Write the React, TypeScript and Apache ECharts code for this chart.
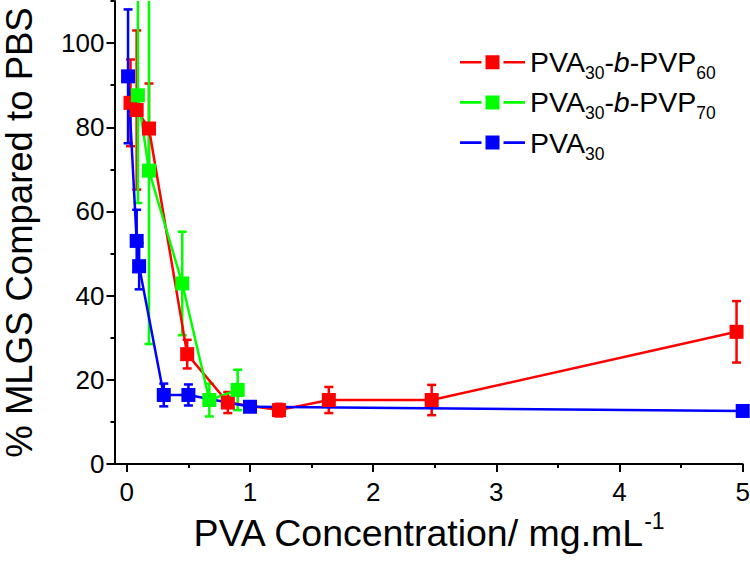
import React, { useEffect, useRef } from 'react';
import * as echarts from 'echarts';

const FONT = '"Liberation Sans", Arial, Helvetica, sans-serif';

// Series names and colours
const seriesNames = ['PVA30-b-PVP60', 'PVA30-b-PVP70', 'PVA30'];
const legendLabels = [
  '{n|PVA}{s|30}{n|-}{i|b}{n|-PVP}{s|60}',
  '{n|PVA}{s|30}{n|-}{i|b}{n|-PVP}{s|70}',
  '{n|PVA}{s|30}',
];
const seriesColors = ['#ff0000', '#00ff00', '#0000ff'];

// PVA30-b-PVP60 (red)
const redX = [0.03, 0.08, 0.18, 0.49, 0.82, 1.235, 1.64, 2.475, 4.95];
const redY = [85.8, 84.1, 79.7, 26.1, 14.6, 12.8, 15.2, 15.2, 31.4];
const redErr = [10.3, 18.9, 10.7, 3.4, 2.5, 1.5, 3.1, 3.6, 7.3];

// PVA30-b-PVP70 (green)
const greenX = [0.09, 0.18, 0.45, 0.67, 0.9];
const greenY = [87.6, 69.7, 42.9, 15.2, 17.6];
const greenErr = [25.6, 41.2, 12.3, 3.9, 4.8];

// PVA30 (blue)
const blueX = [0.01, 0.08, 0.1, 0.3, 0.5, 1.0, 5.0];
const blueY = [92.1, 53.0, 47.0, 16.4, 16.4, 13.6, 12.6];
const blueErr = [15.9, 7.4, 5.5, 2.7, 2.5, 1.0, 0.8];

// Axis ticks
const xMajorTicks = [0, 1, 2, 3, 4, 5];
const xMinorTicks = [0.5, 1.5, 2.5, 3.5, 4.5];
const yMajorTicks = [0, 20, 40, 60, 80, 100];
const yMinorTicks = [10, 30, 50, 70, 90, 110];

const xTitleMain = 'PVA Concentration/ mg.mL';
const xTitleSup = '-1';
const yTitle = '% MLGS Compared to PBS';

const X_MIN = -0.1;
const X_MAX = 5;
const Y_MIN = 0;
const Y_MAX = 110;

const legendIconPath =
  'path://M0,5.7H21.5V8.3H0Z M25.5,0H39.5V14H25.5Z M43.5,5.7H65V8.3H43.5Z';

function errSeries(name: string, xs: number[], ys: number[], es: number[], color: string) {
  return {
    type: 'custom',
    name: name + ' error',
    xAxisIndex: 0,
    yAxisIndex: 0,
    clip: true,
    silent: true,
    data: xs.map((x, i) => [x, ys[i] - es[i], ys[i] + es[i]]),
    encode: { x: 0, y: [1, 2] },
    renderItem: (params: any, api: any) => {
      const x = api.value(0);
      const lo = api.coord([x, api.value(1)]);
      const hi = api.coord([x, api.value(2)]);
      const w = 4.5;
      const style = { stroke: color, lineWidth: 2.5, fill: 'none' };
      return {
        type: 'group',
        children: [
          { type: 'line', shape: { x1: lo[0], y1: lo[1], x2: hi[0], y2: hi[1] }, style },
          { type: 'line', shape: { x1: lo[0] - w, y1: lo[1], x2: lo[0] + w, y2: lo[1] }, style },
          { type: 'line', shape: { x1: hi[0] - w, y1: hi[1], x2: hi[0] + w, y2: hi[1] }, style },
        ],
      };
    },
  };
}

function lineSeries(name: string, xs: number[], ys: number[], color: string) {
  return {
    type: 'line',
    name,
    xAxisIndex: 0,
    yAxisIndex: 0,
    data: xs.map((x, i) => [x, ys[i]]),
    symbol: 'rect',
    symbolSize: 14,
    showSymbol: true,
    clip: true,
    lineStyle: { color, width: 2.5 },
    itemStyle: { color, borderWidth: 0 },
    emphasis: { disabled: true },
  };
}

export default function App() {
  const ref = useRef<HTMLDivElement>(null);

  useEffect(() => {
    if (!ref.current) return;
    const chart = echarts.init(ref.current, undefined, { renderer: 'svg' });
    const axisLineStyle = { color: '#000', width: 2 };
    const labelStyle = { fontSize: 26, fontFamily: FONT, color: '#000' };

    const option: any = {
      animation: false,
      backgroundColor: '#ffffff',
      grid: {
        left: 114.5,
        right: 7.3,
        top: 1,
        bottom: 99,
        containLabel: false,
        outerBoundsMode: 'none',
      },
      legend: {
        orient: 'vertical',
        left: 455,
        top: 42.7,
        itemWidth: 65,
        itemHeight: 14,
        itemGap: 5.7,
        icon: legendIconPath,
        data: seriesNames,
        selectedMode: false,
        itemStyle: { borderWidth: 0 },
        formatter: (name: string) => legendLabels[seriesNames.indexOf(name)],
        textStyle: {
          color: '#000',
          fontFamily: FONT,
          fontSize: 28.5,
          rich: {
            n: { fontSize: 28.5, lineHeight: 40, fontFamily: FONT, color: '#000' },
            i: { fontSize: 28.5, lineHeight: 40, fontFamily: FONT, fontStyle: 'italic', color: '#000' },
            s: { fontSize: 17.5, lineHeight: 12, fontFamily: FONT, verticalAlign: 'bottom', color: '#000' },
          },
        },
      },
      xAxis: [
        {
          type: 'value',
          min: X_MIN,
          max: X_MAX,
          position: 'bottom',
          axisLine: { show: true, onZero: false, lineStyle: axisLineStyle },
          axisTick: { show: true, inside: false, length: 8, customValues: xMajorTicks, lineStyle: axisLineStyle },
          axisLabel: { ...labelStyle, customValues: xMajorTicks, margin: 15, lineHeight: 26 },
          splitLine: { show: false },
          name: '{m|' + xTitleMain + '}{p|' + xTitleSup + '}',
          nameLocation: 'middle',
          nameGap: 20,
          nameTextStyle: {
            color: '#000',
            fontFamily: FONT,
            rich: {
              m: { fontSize: 37.5, lineHeight: 46, fontFamily: FONT, color: '#000' },
              p: { fontSize: 23, lineHeight: 23, fontFamily: FONT, verticalAlign: 'top', color: '#000' },
            },
          },
        },
        {
          type: 'value',
          min: X_MIN,
          max: X_MAX,
          position: 'bottom',
          axisLine: { show: false, onZero: false },
          axisTick: { show: true, inside: false, length: 4, customValues: xMinorTicks, lineStyle: axisLineStyle },
          axisLabel: { show: false },
          splitLine: { show: false },
        },
      ],
      yAxis: [
        {
          type: 'value',
          min: Y_MIN,
          max: Y_MAX,
          position: 'left',
          axisLine: { show: true, onZero: false, lineStyle: axisLineStyle },
          axisTick: { show: true, inside: false, length: 8, customValues: yMajorTicks, lineStyle: axisLineStyle },
          axisLabel: { ...labelStyle, customValues: yMajorTicks, margin: 10 },
          splitLine: { show: false },
          name: yTitle,
          nameLocation: 'middle',
          nameGap: 77,
          nameTextStyle: { fontSize: 36.5, fontFamily: FONT, color: '#000' },
        },
        {
          type: 'value',
          min: Y_MIN,
          max: Y_MAX,
          position: 'left',
          axisLine: { show: false, onZero: false },
          axisTick: { show: true, inside: false, length: 4, customValues: yMinorTicks, lineStyle: axisLineStyle },
          axisLabel: { show: false },
          splitLine: { show: false },
        },
      ],
      series: [
        errSeries(seriesNames[0], redX, redY, redErr, seriesColors[0]),
        lineSeries(seriesNames[0], redX, redY, seriesColors[0]),
        errSeries(seriesNames[1], greenX, greenY, greenErr, seriesColors[1]),
        lineSeries(seriesNames[1], greenX, greenY, seriesColors[1]),
        errSeries(seriesNames[2], blueX, blueY, blueErr, seriesColors[2]),
        lineSeries(seriesNames[2], blueX, blueY, seriesColors[2]),
      ],
    };
    chart.setOption(option);
    return () => chart.dispose();
  }, []);

  return (
    <div
      ref={ref}
      style={{ position: 'fixed', left: 0, top: 0, width: 750, height: 563, background: '#fff' }}
    />
  );
}
